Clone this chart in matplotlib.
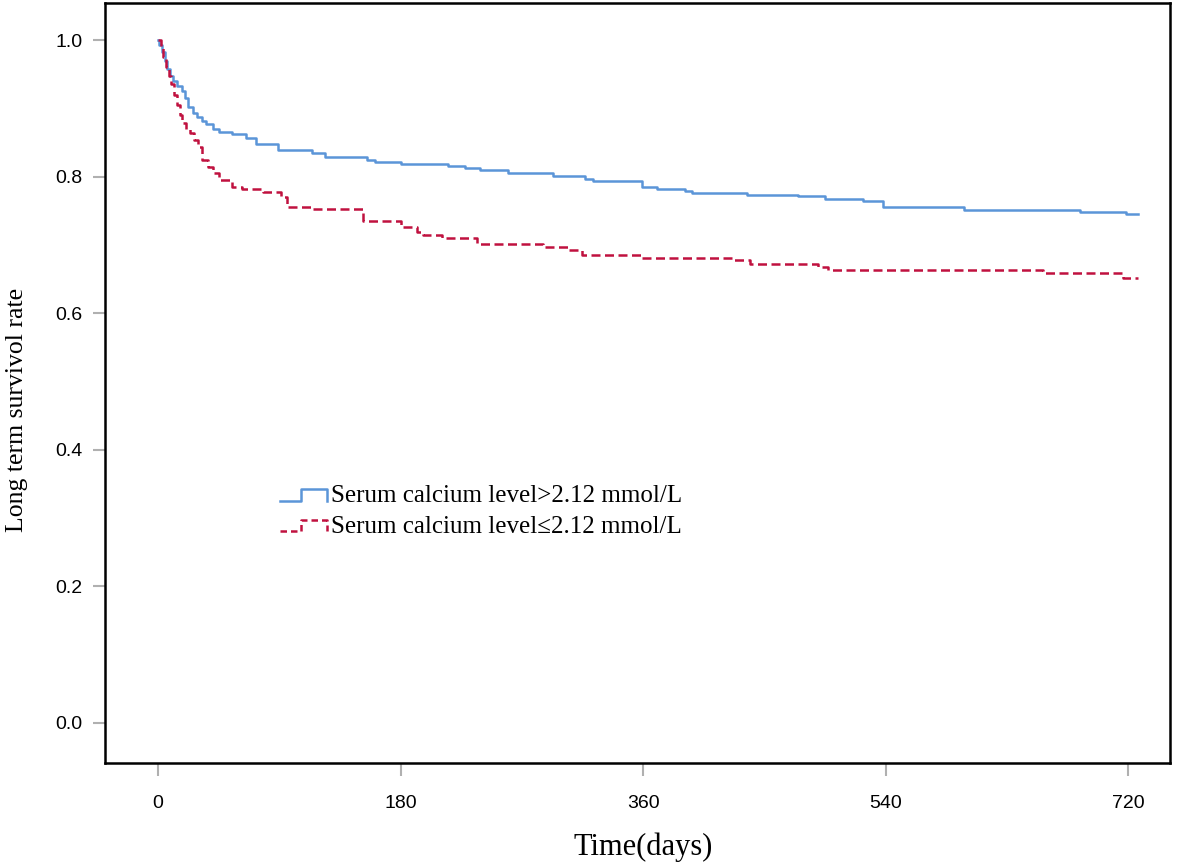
import numpy as np
import matplotlib
matplotlib.use('Agg')
import matplotlib.pyplot as plt
from matplotlib.lines import Line2D
from matplotlib.legend_handler import HandlerBase

# Kaplan-Meier style step data (time in days, survival)
t_high = [0, 1, 3, 5, 7, 9, 11, 14, 18, 20, 22, 26, 29, 33, 36, 41, 45, 55, 65, 73,
          89, 114, 124, 155, 161, 180, 215, 228, 239, 260, 293, 317, 323, 359, 370,
          391, 396, 437, 475, 495, 523, 538, 598, 684, 718, 727]
s_high = [1.0, 0.993, 0.982, 0.970, 0.958, 0.948, 0.940, 0.932, 0.925, 0.915, 0.902,
          0.893, 0.887, 0.882, 0.877, 0.870, 0.865, 0.862, 0.857, 0.848, 0.839, 0.834,
          0.829, 0.824, 0.821, 0.819, 0.816, 0.813, 0.810, 0.806, 0.801, 0.797, 0.793,
          0.785, 0.782, 0.779, 0.776, 0.773, 0.771, 0.767, 0.764, 0.755, 0.751, 0.748,
          0.745, 0.745]

t_low = [0, 2, 4, 6, 8, 10, 12, 14, 16, 18, 21, 24, 27, 30, 33, 37, 41, 45, 55, 62,
         78, 91, 96, 115, 152, 180, 192, 197, 211, 237, 286, 304, 315, 359, 427, 439,
         490, 497, 657, 716, 727]
s_low = [1.0, 0.990, 0.975, 0.960, 0.948, 0.935, 0.920, 0.905, 0.890, 0.878, 0.870,
         0.864, 0.853, 0.843, 0.824, 0.814, 0.805, 0.795, 0.785, 0.782, 0.777, 0.770,
         0.755, 0.753, 0.735, 0.726, 0.719, 0.714, 0.710, 0.701, 0.697, 0.692, 0.685,
         0.681, 0.678, 0.672, 0.667, 0.663, 0.659, 0.651, 0.651]

labels = ['Serum calcium level>2.12 mmol/L', 'Serum calcium level\u22642.12 mmol/L']
xticks = [0, 180, 360, 540, 720]
yticks = [0.0, 0.2, 0.4, 0.6, 0.8, 1.0]

blue = '#5b95d8'
red = '#c0113f'
serif = ['Liberation Serif', 'DejaVu Serif']
sans = ['Liberation Sans', 'DejaVu Sans']


class StepHandler(HandlerBase):
    # legend key drawn like the SPSS step symbol
    def create_artists(self, legend, orig_handle, xdescent, ydescent,
                       width, height, fontsize, trans):
        x0 = -xdescent
        y0 = -ydescent
        xs = [x0, x0 + 0.45 * width, x0 + 0.45 * width, x0 + width, x0 + width]
        ys = [y0 + 0.1 * height, y0 + 0.1 * height, y0 + 0.75 * height,
              y0 + 0.75 * height, y0 + 0.1 * height]
        ln = Line2D(xs, ys, color=orig_handle.get_color(),
                    linestyle=orig_handle.get_linestyle(),
                    linewidth=orig_handle.get_linewidth(), transform=trans)
        if orig_handle.get_linestyle() not in ('-', 'solid'):
            ln.set_dashes((2.6, 1.6))
        return [ln]


fig = plt.figure(figsize=(11.81, 8.68), dpi=100)
ax = fig.add_axes([0.0889, 0.121, 0.902, 0.8755])

l1, = ax.step(t_high, s_high, where='post', color=blue, linewidth=1.8)
l2, = ax.step(t_low, s_low, where='post', color=red, linewidth=1.8,
              linestyle='--', dashes=(3.6, 1.8))

ax.set_xlim(-39.3, 751.2)
ax.set_ylim(-0.0586, 1.0542)
ax.set_xticks(xticks)
ax.set_xticklabels([str(v) for v in xticks], family=sans, fontsize=14)
ax.set_yticks(yticks)
ax.set_yticklabels(['%.1f' % v for v in yticks], family=sans, fontsize=14)
ax.tick_params(axis='x', direction='out', length=9, width=1.5, color='#b0b0b0', pad=14)
ax.tick_params(axis='y', direction='out', length=9, width=1.5, color='#b0b0b0', pad=7)
for sp in ax.spines.values():
    sp.set_linewidth(1.8)
    sp.set_color('black')

ax.set_xlabel('Time(days)', family=serif, fontsize=22)
ax.xaxis.set_label_coords(0.505, -0.092)
ax.set_ylabel('Long term survivol rate', family=serif, fontsize=18.5)
ax.yaxis.set_label_coords(-0.0723, 0.464)

leg = ax.legend([l1, l2], labels, loc='upper left', bbox_to_anchor=(0.164, 0.366),
                frameon=False, prop={'family': serif, 'size': 18},
                handlelength=1.9, handletextpad=0.16, labelspacing=0.33,
                borderpad=0, borderaxespad=0,
                handler_map={Line2D: StepHandler()})

fig.savefig('out.png', dpi=100)
